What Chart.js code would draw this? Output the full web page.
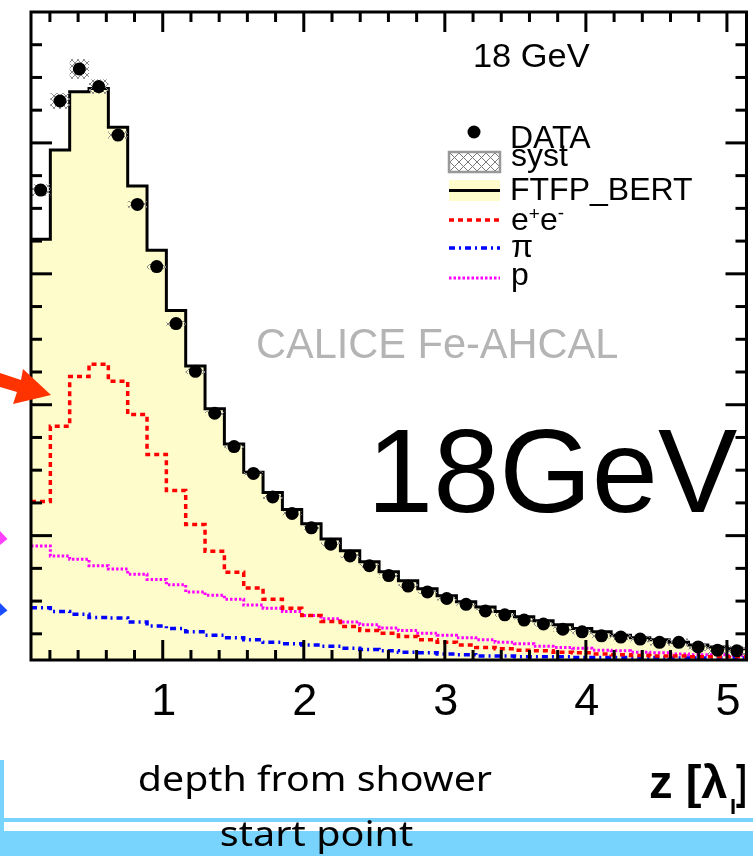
<!DOCTYPE html>
<html>
<head>
<meta charset="utf-8">
<script src="https://cdn.jsdelivr.net/npm/chart.js@4.4.1/dist/chart.umd.min.js"></script>
<style>
  html, body { margin: 0; padding: 0; background: #fff; }
  #c { display: block; }
</style>
</head>
<body>
<canvas id="c" width="753" height="856"></canvas>
<script>
// layers of the calorimeter, depth from shower start in lambda_I
const binStart = 0.066;
const binWidth = 0.1371;
const nBins = 37;

// data points (fraction of energy per layer)
const dataValues = [0.0728, 0.0864, 0.0913, 0.0886, 0.0812, 0.0706, 0.0611, 0.0524, 0.0451, 0.0387,
  0.0336, 0.0295, 0.0259, 0.0234, 0.0212, 0.0187, 0.0169, 0.0154, 0.0139, 0.0123,
  0.0114, 0.0104, 0.0095, 0.0085, 0.0079, 0.0071, 0.0065, 0.0057, 0.0053, 0.0047,
  0.0045, 0.0042, 0.0037, 0.0037, 0.0030, 0.0025, 0.0024];
// systematic uncertainty (half height of hatched box)
const dataSyst = [0.0009, 0.0012, 0.0015, 0.0011, 0.0006, 0.0005, 0.0004, 0.0004, 0.0004, 0.0003,
  0.0003, 0.0003, 0.0003, 0.0003, 0.0003, 0.0003, 0.0003, 0.0003, 0.0003, 0.0003,
  0.0003, 0.0003, 0.0003, 0.0003, 0.0003, 0.0003, 0.0004, 0.0004, 0.0004, 0.0004,
  0.0005, 0.0005, 0.0005, 0.0006, 0.0006, 0.0007, 0.0008];
// FTFP_BERT total
const mcValues = [0.0653, 0.0789, 0.0878, 0.0883, 0.0824, 0.0734, 0.0636, 0.0544, 0.0459, 0.0394,
  0.0340, 0.0297, 0.0266, 0.0240, 0.0218, 0.0195, 0.0177, 0.0160, 0.0145, 0.0131,
  0.0119, 0.0108, 0.0099, 0.0091, 0.0084, 0.0076, 0.0070, 0.0064, 0.0058, 0.0053,
  0.0048, 0.0044, 0.0041, 0.0037, 0.0033, 0.0030, 0.0027];
// FTFP_BERT components
const eeValues = [0.0252, 0.0367, 0.0443, 0.0462, 0.0436, 0.0385, 0.0324, 0.0269, 0.0217, 0.0176,
  0.0144, 0.0120, 0.0103, 0.0089, 0.0078, 0.0069, 0.0061, 0.0055, 0.0051, 0.0046,
  0.0041, 0.0037, 0.0033, 0.0029, 0.0027, 0.0025, 0.0024, 0.0022, 0.0021, 0.0019,
  0.0018, 0.0017, 0.0016, 0.0016, 0.0015, 0.0015, 0.0015];
const piValues = [0.0090, 0.0084, 0.0080, 0.0075, 0.0074, 0.0068, 0.0062, 0.0058, 0.0053, 0.0048,
  0.0044, 0.0041, 0.0037, 0.0035, 0.0033, 0.0031, 0.0028, 0.0026, 0.0024, 0.0022,
  0.0021, 0.0019, 0.0018, 0.0016, 0.0016, 0.0015, 0.0015, 0.0015, 0.0014, 0.0014,
  0.0014, 0.0014, 0.0014, 0.0013, 0.0013, 0.0013, 0.0013];
const pValues = [0.0184, 0.0169, 0.0164, 0.0154, 0.0149, 0.0141, 0.0133, 0.0125, 0.0114, 0.0109,
  0.0103, 0.0094, 0.0089, 0.0084, 0.0078, 0.0073, 0.0068, 0.0064, 0.0059, 0.0055,
  0.0051, 0.0048, 0.0044, 0.0041, 0.0037, 0.0035, 0.0031, 0.0029, 0.0028, 0.0025,
  0.0024, 0.0022, 0.0021, 0.0019, 0.0018, 0.0018, 0.0017];

const xTickLabels = [1, 2, 3, 4, 5];

const SANS = '"Liberation Sans", Arial, Helvetica, sans-serif';
const SLIDE_BLUE = '#78d4fc';
const YELLOW = '#fffccc';

const binEdges = Array.from({ length: nBins + 1 }, (_, i) => binStart + i * binWidth);
const binCenters = binEdges.slice(0, nBins).map(e => e + binWidth / 2);

// histogram as points on the bin edges, drawn with stepped lines
const stepData = (values) =>
  values.map((v, i) => ({ x: binEdges[i], y: v })).concat([{ x: binEdges[nBins], y: values[nBins - 1] }]);

// crosshatch pattern for syst boxes
const makeHatch = (ctx, size, color) => {
  const pc = document.createElement('canvas');
  pc.width = pc.height = size;
  const p = pc.getContext('2d');
  p.strokeStyle = color;
  p.lineWidth = 1;
  p.beginPath();
  p.moveTo(0, 0); p.lineTo(size, size);
  p.moveTo(size, 0); p.lineTo(0, size);
  p.stroke();
  return ctx.createPattern(pc, 'repeat');
};

// draw text so that its glyphs span exactly [left, right]
const fitText = (ctx, text, left, right, baseline, font) => {
  ctx.font = font;
  ctx.textAlign = 'left';
  ctx.textBaseline = 'alphabetic';
  const m = ctx.measureText(text);
  const w = m.actualBoundingBoxLeft + m.actualBoundingBoxRight;
  ctx.save();
  ctx.translate(left, baseline);
  ctx.scale((right - left) / w, 1);
  ctx.fillText(text, m.actualBoundingBoxLeft, 0);
  ctx.restore();
};

const seg = (ctx, x1, y1, x2, y2) => {
  ctx.beginPath();
  ctx.moveTo(x1, y1);
  ctx.lineTo(x2, y2);
  ctx.stroke();
};

const decor = {
  id: 'decor',
  beforeDraw(chart) {
    const ctx = chart.ctx;
    ctx.save();
    ctx.fillStyle = '#fff';
    ctx.fillRect(0, 0, chart.width, chart.height);
    // slide background strips at the bottom
    ctx.fillStyle = SLIDE_BLUE;
    ctx.fillRect(0, 760, 4, 96);
    ctx.fillRect(0, 818, chart.width, 4);
    ctx.fillRect(0, 831, chart.width, 25);
    ctx.restore();
  },
  beforeDatasetDraw(chart, args) {
    if (args.index !== 0) return;
    const { ctx, scales: { x, y } } = chart;
    ctx.save();
    ctx.fillStyle = makeHatch(ctx, 6, '#8a8a8a');
    dataValues.forEach((v, i) => {
      const x0 = x.getPixelForValue(binEdges[i]);
      const x1 = x.getPixelForValue(binEdges[i + 1]);
      const y0 = y.getPixelForValue(v + dataSyst[i]);
      const y1 = y.getPixelForValue(v - dataSyst[i]);
      ctx.fillRect(x0, y0, x1 - x0, y1 - y0);
    });
    ctx.restore();
  },
  afterDraw(chart) {
    const { ctx, chartArea: a, scales: { x, y } } = chart;
    ctx.save();
    ctx.strokeStyle = '#000';
    ctx.lineWidth = 3;
    ctx.lineCap = 'butt';

    // x ticks, bottom and top, every 0.2
    for (let k = 1; k <= 25; k++) {
      const px = x.getPixelForValue(k * 0.2);
      const len = k % 5 === 0 ? 20 : 10;
      seg(ctx, px, a.bottom, px, a.bottom - len);
      seg(ctx, px, a.top, px, a.top + len);
    }
    // y ticks, left and right, every 0.005
    for (let k = 1; k <= 19; k++) {
      const py = y.getPixelForValue(k * 0.005);
      const len = k % 4 === 0 ? 21 : 11;
      seg(ctx, a.left, py, a.left + len, py);
      seg(ctx, a.right, py, a.right - len, py);
    }
    ctx.strokeRect(a.left, a.top, a.right - a.left, a.bottom - a.top);

    // x tick labels
    ctx.fillStyle = '#000';
    ctx.font = '45px ' + SANS;
    ctx.textAlign = 'center';
    ctx.textBaseline = 'alphabetic';
    xTickLabels.forEach(v => ctx.fillText(String(v), x.getPixelForValue(v) + 1, 715));

    // legend
    ctx.beginPath();
    ctx.arc(474, 132, 6.5, 0, Math.PI * 2);
    ctx.fill();

    ctx.fillStyle = makeHatch(ctx, 9, '#777');
    ctx.fillRect(449, 152, 51, 20);
    ctx.strokeStyle = '#999';
    ctx.lineWidth = 2.5;
    ctx.strokeRect(449, 152, 51, 20);

    ctx.fillStyle = YELLOW;
    ctx.fillRect(449, 180, 51, 21);
    ctx.strokeStyle = '#000';
    ctx.lineWidth = 3;
    seg(ctx, 449, 190.5, 500, 190.5);

    ctx.lineWidth = 3.5;
    ctx.strokeStyle = '#ff0000';
    ctx.setLineDash([5, 4]);
    seg(ctx, 449, 220, 500, 220);
    ctx.strokeStyle = '#0000ff';
    ctx.setLineDash([6, 4, 2, 4]);
    seg(ctx, 449, 248, 500, 248);
    ctx.strokeStyle = '#ff00ff';
    ctx.lineWidth = 3;
    ctx.setLineDash([2.5, 2]);
    seg(ctx, 449, 278, 500, 278);
    ctx.setLineDash([]);

    ctx.fillStyle = '#000';
    ctx.textAlign = 'left';
    ctx.font = '32px ' + SANS;
    ctx.fillText('DATA', 510, 148);
    ctx.fillText('syst', 511, 166);
    ctx.fillText('FTFP_BERT', 510, 200);
    // e+e-
    let tx = 511;
    const big = '32px ' + SANS, small = '19px ' + SANS;
    [['e', big, 230], ['+', small, 220], ['e', big, 230], ['-', small, 219]].forEach(([t, f, b]) => {
      ctx.font = f;
      ctx.fillText(t, tx, b);
      tx += ctx.measureText(t).width;
    });
    ctx.font = big;
    ctx.fillText('π', 511, 257);
    ctx.fillText('p', 511, 285);

    // energy label
    fitText(ctx, '18 GeV', 475, 590, 67, '34px ' + SANS);

    // experiment label
    ctx.fillStyle = '#b4b4b4';
    fitText(ctx, 'CALICE Fe-AHCAL', 258, 617, 358, '42px ' + SANS);

    // big slide annotation
    ctx.fillStyle = '#000';
    fitText(ctx, '18GeV', 376, 737, 512, '119px ' + SANS);

    // axis title
    fitText(ctx, 'z [λ', 650, 727, 797.5, 'bold 46px ' + SANS);
    fitText(ctx, 'I', 731, 735, 814, 'bold 22px ' + SANS);
    fitText(ctx, ']', 736, 745, 797.5, 'bold 46px ' + SANS);

    // slide text
    fitText(ctx, 'depth from shower', 139, 492, 791, '34px "Noto Sans", ' + SANS);
    fitText(ctx, 'start point', 221, 413, 846, '34px "Noto Sans", ' + SANS);

    // slide arrows
    ctx.fillStyle = '#ff3300';
    ctx.beginPath();
    ctx.moveTo(0, 373); ctx.lineTo(21, 380); ctx.lineTo(23, 369); ctx.lineTo(51, 395);
    ctx.lineTo(13, 404); ctx.lineTo(17, 392); ctx.lineTo(0, 387);
    ctx.closePath(); ctx.fill();
    ctx.fillStyle = '#ff40ff';
    ctx.beginPath();
    ctx.moveTo(0, 531); ctx.lineTo(7.5, 539); ctx.lineTo(0, 545);
    ctx.closePath(); ctx.fill();
    ctx.fillStyle = '#1a4dff';
    ctx.beginPath();
    ctx.moveTo(0, 603); ctx.lineTo(7.5, 610.5); ctx.lineTo(0, 616);
    ctx.closePath(); ctx.fill();

    ctx.restore();
  }
};

const ctx = document.getElementById('c').getContext('2d');

new Chart(ctx, {
  type: 'line',
  data: {
    datasets: [
      {
        label: 'DATA',
        data: binCenters.map((c, i) => ({ x: c, y: dataValues[i] })),
        showLine: false,
        pointRadius: 6.5,
        pointBackgroundColor: '#000',
        pointBorderColor: '#000',
        pointBorderWidth: 0,
        order: 0
      },
      {
        label: 'e+e-',
        data: stepData(eeValues),
        stepped: 'before',
        borderColor: '#ff0000',
        borderWidth: 3.5,
        borderDash: [5, 4],
        pointRadius: 0,
        fill: false,
        order: 1
      },
      {
        label: 'π',
        data: stepData(piValues),
        stepped: 'before',
        borderColor: '#0000ff',
        borderWidth: 3.5,
        borderDash: [6, 4, 2, 4],
        pointRadius: 0,
        fill: false,
        order: 2
      },
      {
        label: 'p',
        data: stepData(pValues),
        stepped: 'before',
        borderColor: '#ff00ff',
        borderWidth: 3,
        borderDash: [2.5, 2],
        pointRadius: 0,
        fill: false,
        order: 3
      },
      {
        label: 'FTFP_BERT',
        data: stepData(mcValues),
        stepped: 'before',
        borderColor: '#000',
        borderWidth: 3,
        backgroundColor: YELLOW,
        fill: 'start',
        pointRadius: 0,
        order: 4
      }
    ]
  },
  options: {
    responsive: false,
    animation: false,
    devicePixelRatio: 1,
    layout: { padding: { left: 31, top: 12, right: 5, bottom: 196 } },
    scales: {
      x: { type: 'linear', min: binEdges[0], max: binEdges[nBins], display: false },
      y: { type: 'linear', min: 0.001, max: 0.1, display: false }
    },
    plugins: {
      legend: { display: false },
      tooltip: { enabled: false }
    }
  },
  plugins: [decor]
});
</script>
</body>
</html>
